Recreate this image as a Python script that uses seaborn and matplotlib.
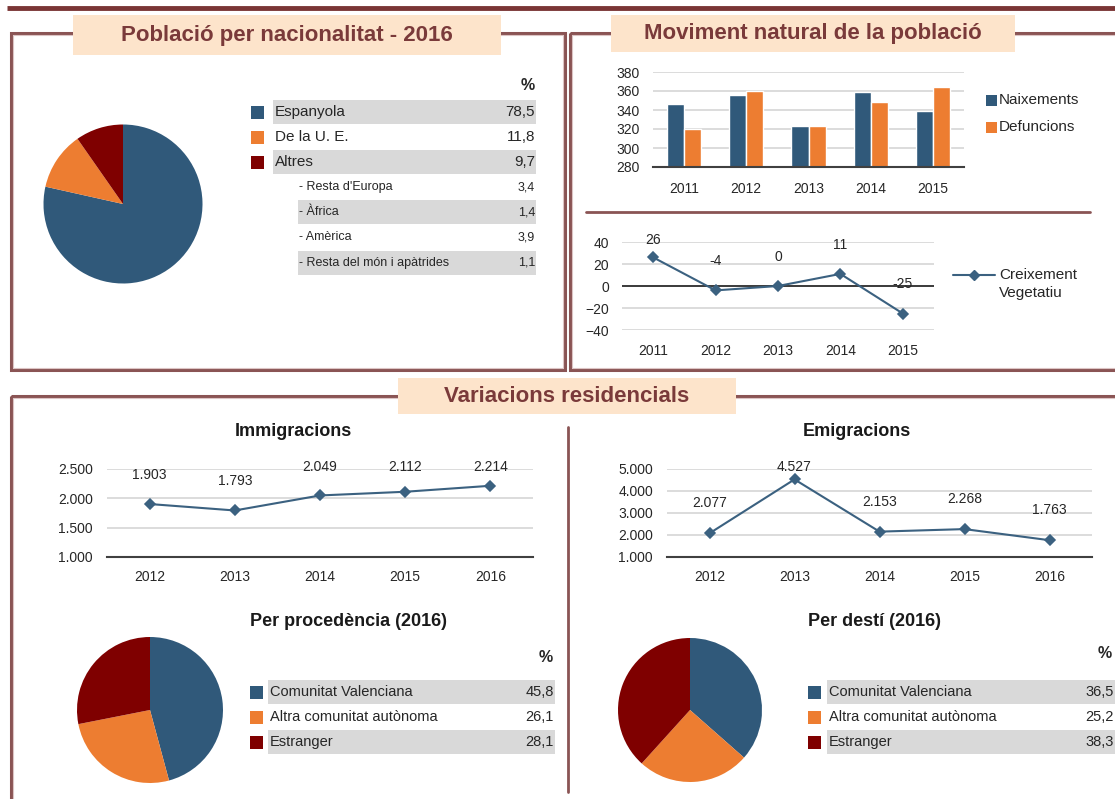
import seaborn as sns
import matplotlib.pyplot as plt
import matplotlib.patches as mpatches
import pandas as pd
import numpy as np

W, H = 1115, 799

# --- data ---
nac_labels = ["Espanyola", "De la U. E.", "Altres"]
nac_values = [78.5, 11.8, 9.7]
altres_labels = ["- Resta d'Europa", "- Àfrica", "- Amèrica", "- Resta del món i apàtrides"]
altres_values = [3.4, 1.4, 3.9, 1.1]

years_nat = [2011, 2012, 2013, 2014, 2015]
naixements = [346, 356, 323, 359, 339]
defuncions = [320, 360, 323, 348, 364]
creixement = [26, -4, 0, 11, -25]

years_var = [2012, 2013, 2014, 2015, 2016]
immigracions = [1903, 1793, 2049, 2112, 2214]
emigracions = [2077, 4527, 2153, 2268, 1763]

orig_labels = ["Comunitat Valenciana", "Altra comunitat autònoma", "Estranger"]
procedencia = [45.8, 26.1, 28.1]
desti = [36.5, 25.2, 38.3]

BLUE = "#30597a"
ORANGE = "#ed7d31"
MAROON = "#7f0000"
PIE_COLORS = [BLUE, ORANGE, MAROON]
PEACH = "#fde4cb"
TITLE_C = "#7a3a3a"
BORDER_C = "#8a5454"
BAND = "#d9d9d9"
GRID = "#d9d9d9"
LINE_C = "#3b6180"
TXT = "#262626"

NARROW = ["Liberation Sans Narrow", "Liberation Sans", "DejaVu Sans"]
REG = ["Liberation Sans", "DejaVu Sans"]

sns.set_style("white")
plt.rcParams["font.family"] = REG

fig = plt.figure(figsize=(W / 100, H / 100), dpi=100)
bg = fig.add_axes([0, 0, 1, 1])
bg.set_xlim(0, W)
bg.set_ylim(H, 0)
bg.axis("off")


def px_axes(x0, y0, x1, y1):
    a = fig.add_axes([x0 / W, 1 - y1 / H, (x1 - x0) / W, (y1 - y0) / H])
    a.set_facecolor("none")
    return a


def dec(v):
    return f"{v:.1f}".replace(".", ",")


def thousands(v):
    return f"{v:,}".replace(",", ".")


def panel(x0, y0, x1, y1):
    bg.add_patch(mpatches.Rectangle((x0, y0), x1 - x0, y1 - y0, fill=False,
                                    ec=BORDER_C, lw=2.2, zorder=1))
    bg.add_patch(mpatches.Rectangle((x0 + 1.8, y0 + 1.8), x1 - x0 - 3.6, y1 - y0 - 3.6,
                                    fill=False, ec="#dcc4c4", lw=0.8, zorder=1))


def title_box(x0, y0, x1, y1, text):
    bg.add_patch(mpatches.Rectangle((x0, y0), x1 - x0, y1 - y0, fc=PEACH,
                                    ec="none", zorder=3))
    bg.text((x0 + x1) / 2, (y0 + y1) / 2, text, ha="center", va="center",
            fontsize=16, fontweight="bold", color=TITLE_C, family=NARROW, zorder=4)


def legend_rows(labels, values, colors, sq_x, text_x, band_x0, band_x1, y0, dy,
                fs, start=0):
    for i, (lab, val) in enumerate(zip(labels, values)):
        y = y0 + dy * i
        if (start + i) % 2 == 0:
            bg.add_patch(mpatches.Rectangle((band_x0, y - 12), band_x1 - band_x0, 24,
                                            fc=BAND, ec="none", zorder=2))
        if colors is not None:
            bg.add_patch(mpatches.Rectangle((sq_x, y - 6.5), 13, 13, fc=colors[i],
                                            ec="none", zorder=3))
        bg.text(text_x, y, lab, ha="left", va="center", fontsize=fs,
                family=NARROW, color=TXT, zorder=4)
        bg.text(band_x1 - 1, y, dec(val), ha="right", va="center", fontsize=fs,
                family=NARROW, color=TXT, zorder=4)


def pie(cx, cy, r, values):
    a = px_axes(cx - r, cy - r, cx + r, cy + r)
    a.pie(values, colors=PIE_COLORS, startangle=90, counterclock=False,
          wedgeprops=dict(linewidth=0))
    a.set_xlim(-1, 1)
    a.set_ylim(-1, 1)
    return a


def style_axes(a, xpad, ypad):
    for s in ["top", "right", "left"]:
        a.spines[s].set_visible(False)
    a.spines["bottom"].set_color("#404040")
    a.spines["bottom"].set_linewidth(1.5)
    a.grid(axis="y", color=GRID, lw=1.3)
    a.grid(axis="x", visible=False)
    a.set_axisbelow(True)
    a.set_xlabel("")
    a.set_ylabel("")
    a.tick_params(axis="x", length=0, labelsize=10, pad=xpad, labelcolor=TXT)
    a.tick_params(axis="y", length=0, labelsize=10, pad=ypad, labelcolor=TXT)


def line_chart(a, years, vals):
    df = pd.DataFrame({"any": [str(y) for y in years], "valor": vals})
    sns.pointplot(data=df, x="any", y="valor", color=LINE_C, markers="D",
                  linestyles="-", errorbar=None, ax=a, markersize=5.5, linewidth=1.5)
    a.set_xlim(-0.5, len(years) - 0.5)


def point_labels(a, vals, fmt, off_px, h_px):
    y0, y1 = a.get_ylim()
    upp = (y1 - y0) / h_px
    for i, v in enumerate(vals):
        a.text(i, min(v + off_px * upp, y1 + 2 * upp), fmt(v), ha="center",
               va="center", fontsize=10, color=TXT, clip_on=False)


# --- frames ---
bg.plot([7, W], [8, 8], color="#7a3535", lw=3.5, solid_capstyle="butt")
panel(11, 33, 565, 370)
panel(570, 33, W + 10, 370)
panel(11, 396, W + 10, H + 20)
bg.plot([586, 1090], [212, 212], color=BORDER_C, lw=2)
bg.plot([568, 568], [427, 792], color=BORDER_C, lw=2)
title_box(73, 15, 501, 55, "Població per nacionalitat - 2016")
title_box(611, 15, 1015, 52, "Moviment natural de la població")
title_box(398, 378, 736, 414, "Variacions residencials")

# --- Població per nacionalitat ---
pie(123, 204, 79.5, nac_values)
bg.text(535, 85, "%", ha="right", va="center", fontsize=11.5, fontweight="bold",
        family=NARROW, color=TXT)
legend_rows(nac_labels, nac_values, PIE_COLORS, 251, 275, 273, 536, 112, 25.1, 11)
legend_rows(altres_labels, altres_values, None, 0, 299, 298, 536, 112 + 3 * 25.1,
            25.1, 9, start=1)

# --- Moviment natural: barres ---
ax_b = px_axes(653, 72, 964, 167)
df_b = pd.DataFrame({
    "any": [str(y) for y in years_nat] * 2,
    "valor": naixements + defuncions,
    "serie": ["Naixements"] * len(years_nat) + ["Defuncions"] * len(years_nat),
})
sns.barplot(data=df_b, x="any", y="valor", hue="serie", palette=[BLUE, ORANGE],
            width=0.55, gap=0, saturation=1, errorbar=None, legend=False, ax=ax_b)
ax_b.set_ylim(280, 380)
ax_b.set_yticks(range(280, 381, 20))
ax_b.set_xlim(-0.5, len(years_nat) - 0.5)
style_axes(ax_b, 11, 9.5)
for lab, col, y in [("Naixements", BLUE, 100), ("Defuncions", ORANGE, 127)]:
    bg.add_patch(mpatches.Rectangle((986, y - 5.5), 11, 11, fc=col, ec="none"))
    bg.text(999, y, lab, ha="left", va="center", fontsize=11, color=TXT)

# --- Moviment natural: creixement vegetatiu ---
ax_c = px_axes(622, 242, 934, 330)
line_chart(ax_c, years_nat, creixement)
ax_c.set_ylim(-40, 40)
ax_c.set_yticks(range(-40, 41, 20))
style_axes(ax_c, 10, 9.5)
ax_c.spines["bottom"].set_visible(False)
ax_c.axhline(0, color="#202020", lw=1.2, zorder=1)
point_labels(ax_c, creixement, str, 29, 88)
bg.plot([953, 995], [275, 275], color=LINE_C, lw=1.5)
bg.plot([974], [275], marker="D", color=LINE_C, markersize=5.5)
bg.text(999, 275, "Creixement", ha="left", va="center", fontsize=11, color=TXT)
bg.text(999, 293, "Vegetatiu", ha="left", va="center", fontsize=11, color=TXT)

# --- Immigracions ---
bg.text(293, 431, "Immigracions", ha="center", va="center", fontsize=13,
        fontweight="bold", family=NARROW, color="#1a1a1a")
ax_i = px_axes(107, 469, 533, 557)
line_chart(ax_i, years_var, immigracions)
ax_i.set_ylim(1000, 2500)
ticks_i = list(range(1000, 2501, 500))
ax_i.set_yticks(ticks_i)
ax_i.set_yticklabels([thousands(t) for t in ticks_i])
style_axes(ax_i, 9.5, 10)
point_labels(ax_i, immigracions, thousands, 29, 88)

# --- Emigracions ---
bg.text(857, 431, "Emigracions", ha="center", va="center", fontsize=13,
        fontweight="bold", family=NARROW, color="#1a1a1a")
ax_e = px_axes(667, 469, 1092, 557)
line_chart(ax_e, years_var, emigracions)
ax_e.set_ylim(1000, 5000)
ticks_e = list(range(1000, 5001, 1000))
ax_e.set_yticks(ticks_e)
ax_e.set_yticklabels([thousands(t) for t in ticks_e])
style_axes(ax_e, 9.5, 10)
point_labels(ax_e, emigracions, thousands, 30, 88)

# --- Per procedència / Per destí ---
bg.text(349, 621, "Per procedència (2016)", ha="center", va="center", fontsize=13,
        fontweight="bold", family=NARROW, color="#1a1a1a")
bg.text(874, 621, "Per destí (2016)", ha="center", va="center", fontsize=13,
        fontweight="bold", family=NARROW, color="#1a1a1a")
pie(150, 710, 73, procedencia)
pie(690, 710, 72, desti)
bg.text(553, 658, "%", ha="right", va="center", fontsize=11.5, fontweight="bold",
        family=NARROW, color=TXT)
bg.text(1112, 653, "%", ha="right", va="center", fontsize=11.5, fontweight="bold",
        family=NARROW, color=TXT)
legend_rows(orig_labels, procedencia, PIE_COLORS, 250, 270, 268, 555, 692, 25, 10.5)
legend_rows(orig_labels, desti, PIE_COLORS, 808, 829, 827, 1115, 692, 25, 10.5)

fig.savefig("out.png", dpi=100)
